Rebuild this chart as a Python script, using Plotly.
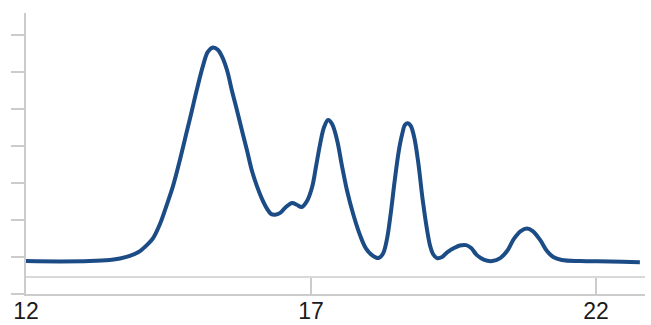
import plotly.graph_objects as go

# Elution time (x) and detector signal (arbitrary units)
time_min = [12.00, 12.60, 13.12, 13.47, 13.65, 13.82, 14.00, 14.14, 14.23, 14.35,
            14.47, 14.58, 14.70, 14.82, 14.91, 15.00, 15.11, 15.19, 15.28, 15.37,
            15.44, 15.53, 15.61, 15.70, 15.79, 15.88, 15.96, 16.05, 16.14, 16.23,
            16.30, 16.37, 16.46, 16.56, 16.67, 16.75, 16.84, 16.93, 17.02, 17.09,
            17.16, 17.23, 17.30, 17.37, 17.46, 17.54, 17.63, 17.74, 17.86, 17.96,
            18.07, 18.18, 18.26, 18.33, 18.40, 18.47, 18.54, 18.60, 18.65, 18.70,
            18.75, 18.81, 18.88, 18.96, 19.04, 19.09, 19.14, 19.21, 19.30, 19.40,
            19.51, 19.61, 19.72, 19.81, 19.91, 20.04, 20.18, 20.32, 20.44, 20.56,
            20.68, 20.79, 20.89, 21.02, 21.14, 21.25, 21.40, 21.72, 22.25, 22.77]
signal = [0.89, 0.88, 0.89, 0.92, 0.96, 1.03, 1.16, 1.35, 1.51, 1.89,
          2.41, 2.92, 3.62, 4.38, 4.95, 5.54, 6.19, 6.54, 6.66, 6.59,
          6.41, 6.03, 5.51, 4.97, 4.41, 3.86, 3.35, 2.92, 2.57, 2.30,
          2.16, 2.14, 2.19, 2.35, 2.46, 2.41, 2.35, 2.51, 2.89, 3.46,
          4.05, 4.51, 4.70, 4.59, 4.14, 3.49, 2.81, 2.16, 1.59, 1.24,
          1.05, 0.97, 1.08, 1.46, 2.19, 3.08, 3.86, 4.32, 4.57, 4.61,
          4.54, 4.24, 3.57, 2.54, 1.70, 1.30, 1.08, 0.97, 1.00, 1.14,
          1.24, 1.31, 1.32, 1.24, 1.05, 0.92, 0.89, 0.97, 1.16, 1.49,
          1.70, 1.77, 1.70, 1.46, 1.16, 1.00, 0.92, 0.89, 0.88, 0.86]

x_tick_vals = [12, 17, 22]
x_tick_text = ["12", "17", "22"]
y_tick_vals = [0, 1, 2, 3, 4, 5, 6, 7]
reference_level = 0.46

axis_grey = "#cccccc"

fig = go.Figure()
fig.add_trace(go.Scatter(
    x=time_min, y=signal, mode="lines",
    line=dict(color="#1c4c86", width=4, shape="spline", smoothing=1.0),
    hoverinfo="skip", showlegend=False,
))

fig.add_shape(type="line", xref="paper", x0=0, x1=1, yref="y",
              y0=reference_level, y1=reference_level,
              line=dict(color=axis_grey, width=1.5), layer="below")

fig.update_layout(
    width=651, height=325,
    margin=dict(l=26, r=6, t=13, b=31),
    paper_bgcolor="white", plot_bgcolor="white",
    font=dict(family="Liberation Sans, Arial, sans-serif", color="#1a1a1a"),
    xaxis=dict(
        range=[12, 22.86], tickmode="array", tickvals=x_tick_vals, ticktext=x_tick_text,
        ticks="inside", ticklen=16, tickwidth=1.5, tickcolor=axis_grey,
        showline=True, linecolor=axis_grey, linewidth=1.5,
        showgrid=False, zeroline=False, automargin=False,
        tickfont=dict(size=23, color="#1a1a1a"),
        ticklabelstandoff=-4,
    ),
    yaxis=dict(
        range=[0, 7.59], tickmode="array", tickvals=y_tick_vals,
        showticklabels=False, automargin=False,
        ticks="outside", ticklen=13, tickwidth=1.5, tickcolor=axis_grey,
        showline=True, linecolor=axis_grey, linewidth=1.5,
        showgrid=False, zeroline=False,
    ),
)

fig.write_html(
    "out.html",
    config={"displayModeBar": False},
    post_script="document.body.style.margin='0';document.body.style.padding='0';",
)
